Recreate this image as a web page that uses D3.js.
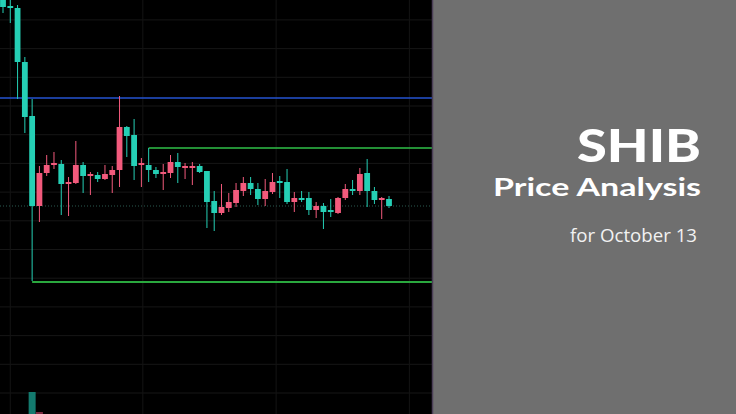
<!DOCTYPE html>
<html><head><meta charset="utf-8">
<script src="https://cdn.jsdelivr.net/npm/d3@7"></script>
<style>html,body{margin:0;padding:0;background:#000;overflow:hidden}</style>
</head><body>
<svg id="c" width="736" height="414"></svg>
<script>
// ---- data (price units) ----
const candleIndex = d3.range(54);
const opens  = [417,408,406,352,298,208,241,249,250,230,231,249,238,239,235,239,244,287,279,249,249,244,240,241,252,246,246,248,243,213,201,206,211,223,231,225,215,222,233,232,212,216,216,204,208,204,201,216,225,223,241,223,214,215];
const highs  = [424,414,409,357,315,248,259,262,254,237,273,252,242,242,249,248,318,288,295,256,266,247,250,259,261,251,252,250,243,223,230,221,231,237,237,231,235,241,238,245,222,223,222,212,211,215,217,230,234,246,255,227,217,218];
const lows   = [401,391,315,281,133,192,238,245,199,198,230,221,219,232,234,221,227,257,234,227,232,236,224,236,231,235,229,241,186,183,199,202,207,218,219,209,208,220,216,210,202,212,199,196,185,197,200,214,219,219,207,210,195,206];
const closes = [407,406,352,297,208,241,249,251,230,232,249,238,240,235,240,244,287,278,248,251,244,240,242,252,247,248,248,242,212,201,207,212,224,231,225,215,223,232,231,212,216,214,204,208,202,202,216,225,223,240,223,214,216,208];
const volumes = [0,0,0,0,22,2,0,0,0,0,0,0,0,0,0,0,0,0,0,0,0,0,0,0,0,0,0,0,0,0,0,0,0,0,0,0,0,0,0,0,0,0,0,0,0,0,0,0,0,0,0,0,0,0];
const resistanceBlue = 316;
const resistanceGreen = {price: 266, fromIndex: 20};
const supportGreen = {price: 132, fromIndex: 4};
const titleLines = ["SHIB", "Price Analysis", "for October 13"];

const W = 736, H = 414, chartW = 432;
const svg = d3.select("#c");

const x = d3.scaleLinear().domain([0, 53]).range([3, 389]);
const y = d3.scaleLinear().domain([0, 414]).range([414, 0]);
const vy = d3.scaleLinear().domain([0, 22]).range([414, 392]);

const UP = "#f25a7c", DOWN = "#25cfb5";
const candles = candleIndex.map(i => ({i, o: opens[i], h: highs[i], l: lows[i], c: closes[i], v: volumes[i]}));

svg.append("rect").attr("x",0).attr("y",0).attr("width",chartW).attr("height",H).attr("fill","#000");

const clip = svg.append("defs").append("clipPath").attr("id","cl");
clip.append("rect").attr("x",0).attr("y",0).attr("width",chartW).attr("height",H);
const g = svg.append("g").attr("clip-path","url(#cl)");

// grid
const gridPrices = d3.range(21, 420, 28.7);
g.selectAll(".hg").data(gridPrices).join("line")
  .attr("x1",0).attr("x2",chartW).attr("y1",d=>y(d)).attr("y2",d=>y(d))
  .attr("stroke","#161616").attr("stroke-width",1);
const gridIdx = [1, 19.2, 37.5, 55.8];
g.selectAll(".vg").data(gridIdx).join("line")
  .attr("x1",d=>x(d)).attr("x2",d=>x(d)).attr("y1",0).attr("y2",H)
  .attr("stroke","#141414").attr("stroke-width",1);

// volume
g.selectAll(".vol").data(candles.filter(d=>d.v>0)).join("rect")
  .attr("x",d=>x(d.i)-3.5).attr("width",7)
  .attr("y",d=>vy(d.v)).attr("height",d=>vy(0)-vy(d.v))
  .attr("fill",d=>d.c>=d.o? "#7a2a40":"#137a6e");

// last price dotted line
const last = candles[candles.length-1];
g.append("line").attr("x1",0).attr("x2",chartW).attr("y1",y(last.c)).attr("y2",y(last.c))
  .attr("stroke","#2a5a50").attr("stroke-width",1).attr("stroke-dasharray","1,2");

// horizontal levels
g.append("line").attr("x1",0).attr("x2",chartW).attr("y1",y(resistanceBlue)).attr("y2",y(resistanceBlue))
  .attr("stroke","#2453d0").attr("stroke-width",1.6);
g.append("line").attr("x1",x(resistanceGreen.fromIndex)).attr("x2",chartW)
  .attr("y1",y(resistanceGreen.price)).attr("y2",y(resistanceGreen.price))
  .attr("stroke","#2fc148").attr("stroke-width",1.6);
g.append("line").attr("x1",x(supportGreen.fromIndex)).attr("x2",chartW)
  .attr("y1",y(supportGreen.price)).attr("y2",y(supportGreen.price))
  .attr("stroke","#2aa83e").attr("stroke-width",2);

// candles
const cg = g.selectAll(".cd").data(candles).join("g");
cg.append("line")
  .attr("x1",d=>x(d.i)).attr("x2",d=>x(d.i))
  .attr("y1",d=>y(d.h)).attr("y2",d=>y(d.l))
  .attr("stroke",d=>d.c>=d.o?UP:DOWN).attr("stroke-width",1);
cg.append("rect")
  .attr("x",d=>x(d.i)-2.9).attr("width",5.8)
  .attr("y",d=>y(Math.max(d.o,d.c)))
  .attr("height",d=>Math.max(1.5, Math.abs(y(d.o)-y(d.c))))
  .attr("fill",d=>d.c>=d.o?UP:DOWN);

// right panel
svg.append("rect").attr("x",chartW).attr("y",0).attr("width",W-chartW).attr("height",H).attr("fill","#6f6f6f");
svg.append("line").attr("x1",chartW+0.5).attr("x2",chartW+0.5).attr("y1",0).attr("y2",H)
  .attr("stroke","#4b3f57").attr("stroke-width",1.5);

const tx = 701;
svg.append("text").attr("x",tx).attr("y",162).attr("text-anchor","end")
  .attr("font-family","Lato, sans-serif").attr("font-weight",900).attr("font-size",46)
  .attr("fill","#fff").attr("textLength",124).attr("lengthAdjust","spacingAndGlyphs").text(titleLines[0]);
svg.append("text").attr("x",tx).attr("y",196).attr("text-anchor","end")
  .attr("font-family","Lato, sans-serif").attr("font-weight",700).attr("font-size",24)
  .attr("fill","#fff").attr("textLength",208).attr("lengthAdjust","spacingAndGlyphs").text(titleLines[1]);
svg.append("text").attr("x",697).attr("y",242).attr("text-anchor","end")
  .attr("font-family","'Open Sans', sans-serif").attr("font-weight",400).attr("font-size",18)
  .attr("fill","#f2f2f2").attr("textLength",127).attr("lengthAdjust","spacingAndGlyphs").text(titleLines[2]);
</script>
</body></html>
